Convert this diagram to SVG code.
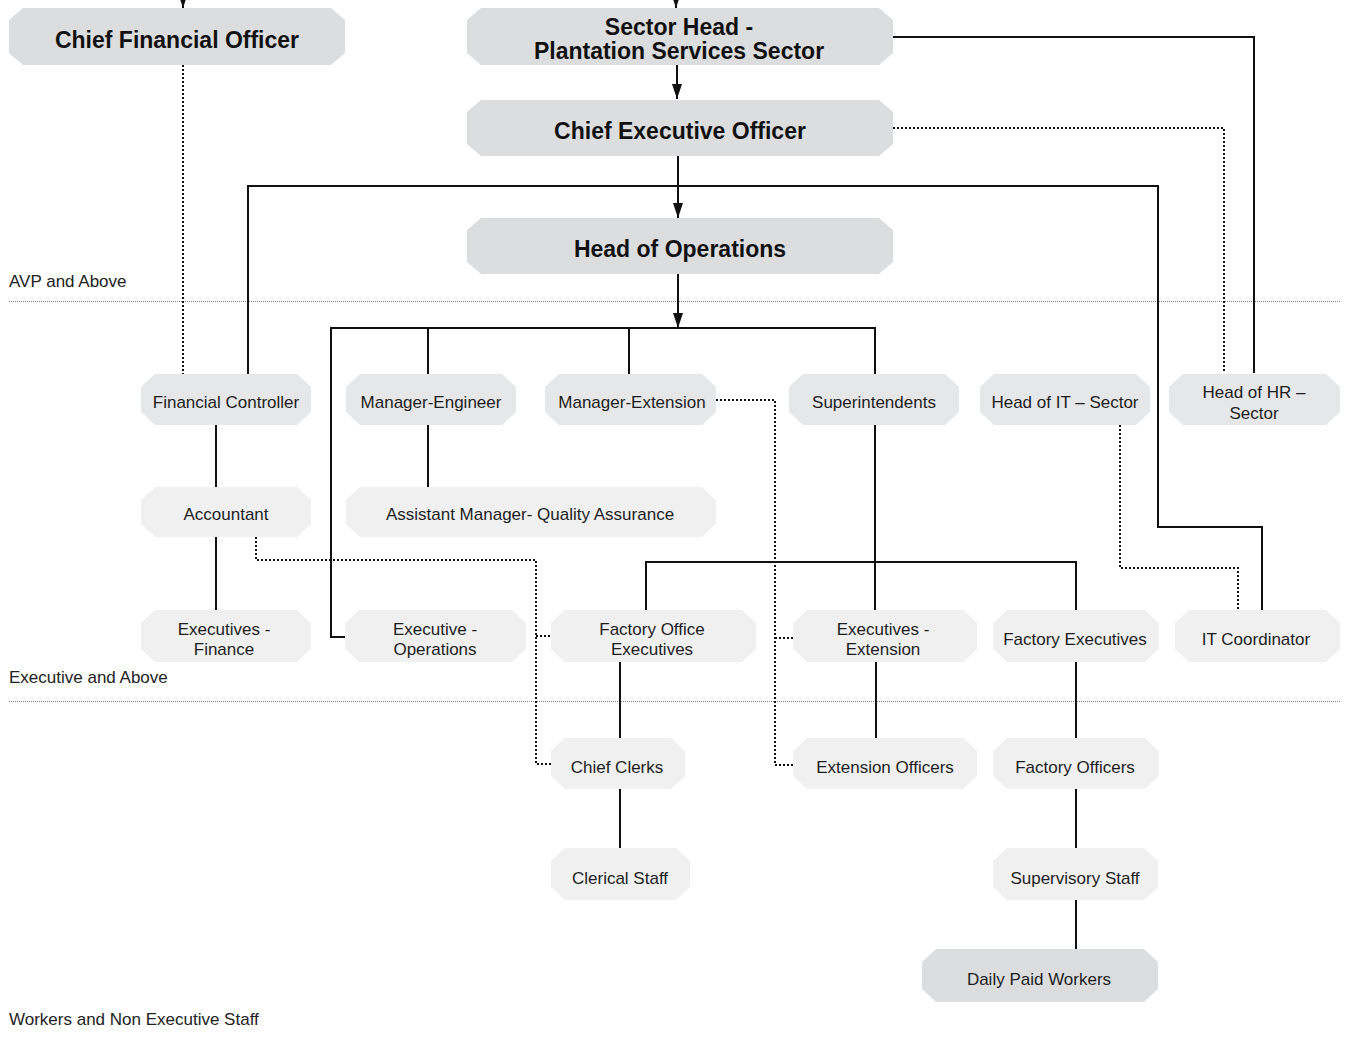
<svg xmlns="http://www.w3.org/2000/svg" width="1346" height="1038" viewBox="0 0 1346 1038">
<style>
.t{font-family:"Liberation Sans",Arial,sans-serif;font-size:17px;fill:#1e1e1e;text-anchor:middle}
.b{font-family:"Liberation Sans",Arial,sans-serif;font-size:23px;font-weight:bold;fill:#111;text-anchor:middle}
.lvl{font-family:"Liberation Sans",Arial,sans-serif;font-size:17px;fill:#222}
.dk{fill:#dcdddf}
.md{fill:#e6e7e8}
.lt{fill:#f0f0f1}
.s{fill:none;stroke:#111;stroke-width:2}
.d{fill:none;stroke:#111;stroke-width:2;stroke-dasharray:2 2}
.sep{fill:none;stroke:#888;stroke-width:1;stroke-dasharray:1 1}
</style>
<defs>
<marker id="ah" markerUnits="userSpaceOnUse" markerWidth="15" markerHeight="10" refX="15" refY="5" orient="auto">
<path d="M0,0 L15,5 L0,10 z" fill="#111"/>
</marker>
</defs>
<rect width="1346" height="1038" fill="#fff"/>

<g id="levels">
<line class="sep" x1="9" y1="301.5" x2="1341" y2="301.5"/>
<line class="sep" x1="9" y1="701.5" x2="1341" y2="701.5"/>
<text class="lvl" x="9" y="287">AVP and Above</text>
<text class="lvl" x="9" y="683">Executive and Above</text>
<text class="lvl" x="9" y="1025">Workers and Non Executive Staff</text>
</g>

<g id="connectors">
<line class="s" x1="183" y1="-10" x2="183" y2="8" marker-end="url(#ah)"/>
<line class="s" x1="676" y1="-10" x2="676" y2="8" marker-end="url(#ah)"/>
<line class="s" x1="677" y1="65" x2="677" y2="99" marker-end="url(#ah)"/>
<line class="s" x1="678" y1="156" x2="678" y2="218" marker-end="url(#ah)"/>
<line class="s" x1="678" y1="274" x2="678" y2="328" marker-end="url(#ah)"/>
<path class="s" d="M248,375 V186 H1158 V527 H1262 V610"/>
<path class="s" d="M893,37 H1254 V373"/>
<path class="d" d="M893,128 H1224 V373"/>
<path class="d" d="M183,65 V375"/>
<path class="s" d="M345,637 H331 V328 H875 V375"/>
<line class="s" x1="428" y1="328" x2="428" y2="375"/>
<line class="s" x1="629" y1="328" x2="629" y2="375"/>
<line class="s" x1="216" y1="425" x2="216" y2="487"/>
<line class="s" x1="216" y1="537" x2="216" y2="610"/>
<line class="s" x1="428" y1="425" x2="428" y2="487"/>
<path class="d" d="M256,537 V560 H536 V764 H551"/>
<line class="d" x1="536" y1="636" x2="551" y2="636"/>
<path class="d" d="M716,400 H775 V765 H793"/>
<line class="d" x1="775" y1="638" x2="793" y2="638"/>
<line class="s" x1="875" y1="425" x2="875" y2="610"/>
<path class="s" d="M646,610 V562 H1076 V610"/>
<line class="s" x1="620" y1="662" x2="620" y2="738"/>
<line class="s" x1="620" y1="789" x2="620" y2="848"/>
<line class="s" x1="876" y1="662" x2="876" y2="738"/>
<line class="s" x1="1076" y1="662" x2="1076" y2="738"/>
<line class="s" x1="1076" y1="789" x2="1076" y2="848"/>
<line class="s" x1="1076" y1="900" x2="1076" y2="949"/>
<path class="d" d="M1120,425 V568 H1238 V610"/>
</g>

<g id="cfo"><polygon class="dk" points="23,8 331,8 345,20 345,53 331,65 23,65 9,53 9,20"/><text class="b" x="177" y="48">Chief Financial Officer</text></g>
<g id="sector-head"><polygon class="dk" points="481,8 879,8 893,20 893,53 879,65 481,65 467,53 467,20"/><text class="b" x="679" y="35">Sector Head -</text><text class="b" x="679" y="59">Plantation Services Sector</text></g>
<g id="ceo"><polygon class="dk" points="481,100 879,100 893,112 893,144 879,156 481,156 467,144 467,112"/><text class="b" x="680" y="139">Chief Executive Officer</text></g>
<g id="head-ops"><polygon class="dk" points="481,218 879,218 893,230 893,262 879,274 481,274 467,262 467,230"/><text class="b" x="680" y="257">Head of Operations</text></g>

<g id="financial-controller"><polygon class="md" points="155,374 297,374 311,387 311,412 297,425 155,425 141,412 141,387"/><text class="t" x="226" y="408">Financial Controller</text></g>
<g id="manager-engineer"><polygon class="md" points="360,374 502,374 516,387 516,412 502,425 360,425 346,412 346,387"/><text class="t" x="431" y="408">Manager-Engineer</text></g>
<g id="manager-extension"><polygon class="md" points="559,374 702,374 716,387 716,412 702,425 559,425 545,412 545,387"/><text class="t" x="632" y="408">Manager-Extension</text></g>
<g id="superintendents"><polygon class="md" points="803,374 945,374 959,387 959,412 945,425 803,425 789,412 789,387"/><text class="t" x="874" y="408">Superintendents</text></g>
<g id="head-it"><polygon class="md" points="994,374 1136,374 1150,387 1150,412 1136,425 994,425 980,412 980,387"/><text class="t" x="1065" y="408">Head of IT – Sector</text></g>
<g id="head-hr"><polygon class="md" points="1183,374 1326,374 1340,387 1340,412 1326,425 1183,425 1169,412 1169,387"/><text class="t" x="1254" y="398">Head of HR –</text><text class="t" x="1254" y="419">Sector</text></g>

<g id="accountant"><polygon class="lt" points="155,487 297,487 311,500 311,524 297,537 155,537 141,524 141,500"/><text class="t" x="226" y="520">Accountant</text></g>
<g id="asst-manager-qa"><polygon class="lt" points="360,487 702,487 716,500 716,524 702,537 360,537 346,524 346,500"/><text class="t" x="530" y="520">Assistant Manager- Quality Assurance</text></g>

<g id="executives-finance"><polygon class="lt" points="155,610 297,610 311,623 311,649 297,662 155,662 141,649 141,623"/><text class="t" x="224" y="635">Executives -</text><text class="t" x="224" y="655">Finance</text></g>
<g id="executive-operations"><polygon class="lt" points="359,610 512,610 526,623 526,649 512,662 359,662 345,649 345,623"/><text class="t" x="435" y="635">Executive -</text><text class="t" x="435" y="655">Operations</text></g>
<g id="factory-office-executives"><polygon class="lt" points="565,610 742,610 756,623 756,649 742,662 565,662 551,649 551,623"/><text class="t" x="652" y="635">Factory Office</text><text class="t" x="652" y="655">Executives</text></g>
<g id="executives-extension"><polygon class="lt" points="807,610 963,610 977,623 977,649 963,662 807,662 793,649 793,623"/><text class="t" x="883" y="635">Executives -</text><text class="t" x="883" y="655">Extension</text></g>
<g id="factory-executives"><polygon class="lt" points="1007,610 1145,610 1159,623 1159,649 1145,662 1007,662 993,649 993,623"/><text class="t" x="1075" y="645">Factory Executives</text></g>
<g id="it-coordinator"><polygon class="lt" points="1189,610 1326,610 1340,623 1340,649 1326,662 1189,662 1175,649 1175,623"/><text class="t" x="1256" y="645">IT Coordinator</text></g>

<g id="chief-clerks"><polygon class="lt" points="565,738 671,738 685,751 685,776 671,789 565,789 551,776 551,751"/><text class="t" x="617" y="773">Chief Clerks</text></g>
<g id="extension-officers"><polygon class="lt" points="807,738 963,738 977,751 977,776 963,789 807,789 793,776 793,751"/><text class="t" x="885" y="773">Extension Officers</text></g>
<g id="factory-officers"><polygon class="lt" points="1007,738 1145,738 1159,751 1159,776 1145,789 1007,789 993,776 993,751"/><text class="t" x="1075" y="773">Factory Officers</text></g>

<g id="clerical-staff"><polygon class="lt" points="565,848 676,848 690,861 690,887 676,900 565,900 551,887 551,861"/><text class="t" x="620" y="884">Clerical Staff</text></g>
<g id="supervisory-staff"><polygon class="lt" points="1007,848 1144,848 1158,861 1158,887 1144,900 1007,900 993,887 993,861"/><text class="t" x="1075" y="884">Supervisory Staff</text></g>

<g id="daily-paid-workers"><polygon class="dk" points="936,949 1144,949 1158,962 1158,989 1144,1002 936,1002 922,989 922,962"/><text class="t" x="1039" y="985">Daily Paid Workers</text></g>
</svg>
